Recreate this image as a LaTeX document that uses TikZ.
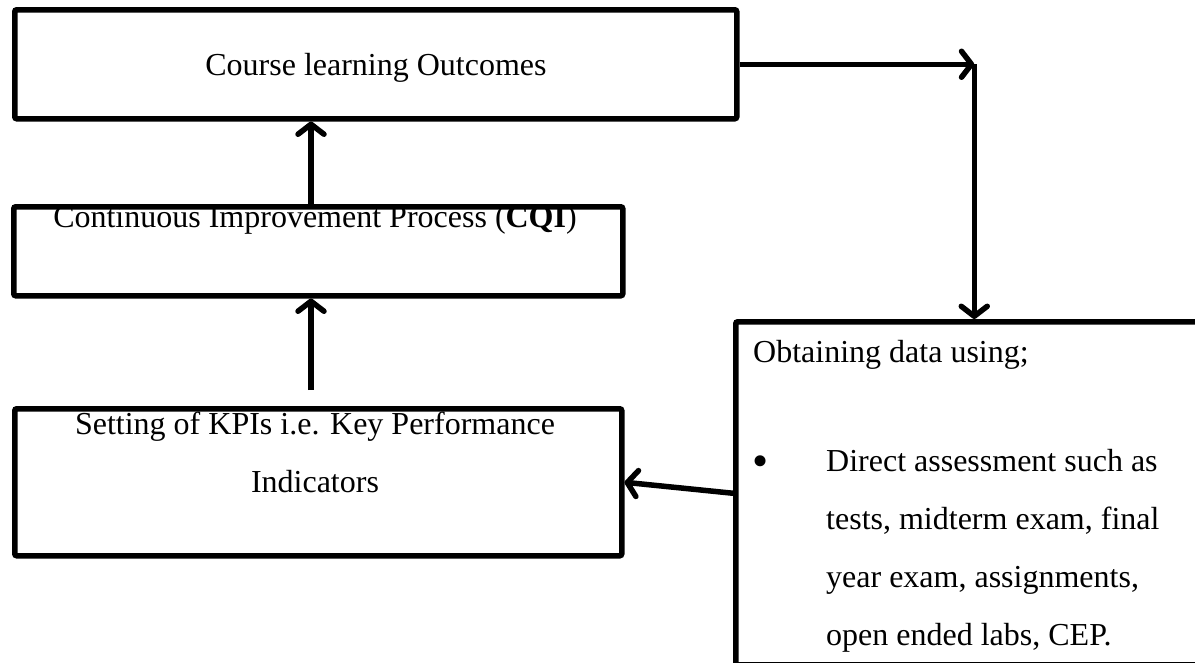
\documentclass[tikz,border=0pt]{standalone}
\usepackage{fontspec}
\setmainfont{Liberation Serif}
\usetikzlibrary{positioning,arrows.meta}

\begin{document}
\begin{tikzpicture}[x=1pt, y=-1pt,
    box/.style={draw, line width=5.5pt, rounded corners=2pt, anchor=north west, inner sep=0pt},
    txt/.style={inner sep=0pt, font=\fontsize{32}{58}\selectfont},
    arr/.style={line width=5.5pt, -{Straight Barb[length=10pt, width=26pt, line width=5.5pt, round]}}]
    \path[use as bounding box, clip] (0,0) rectangle (1195,662);
    \fill[white] (0,0) rectangle (1195,662);
    % boxes
    \node[box, minimum width=722pt, minimum height=109pt] (clo) at (12,7) {};
    \node[box, minimum width=609pt, minimum height=89pt] (cqi) at (11,204) {};
    \node[box, minimum width=607pt, minimum height=147pt] (kpi) at (12,406) {};
    \node[box, minimum width=477pt, minimum height=343pt] (data) at (733,319) {};
    % texts
    \node[txt] (clotext) at (376,68) {Course learning Outcomes};
    \node[txt] (cqitext) at (315,220) {Continuous Improvement Process (\textbf{CQI})};
    \node[txt, align=center] (kpitext) at (315,452) {Setting of KPIs i.e. Key Performance\\Indicators};
    \node[txt, anchor=west] (datatext) at (753,355) {Obtaining data using;};
    \node[txt, font=\fontsize{46}{46}\selectfont] (bullet) at (761,466) {\textbullet};
    \node[txt, anchor=west, align=left] (methods) at (826,551) {Direct assessment such as\\tests, midterm exam, final\\year exam, assignments,\\open ended labs, CEP.};
    % connectors
    \coordinate (turn) at (clo.east -| data.north);
    \coordinate (kpitop) at (311,390);
    \draw[arr] (clo.east) -- (turn);
    \draw[arr] (turn) -- (data.north);
    \draw[arr] (cqi.north -| kpitop) -- (clo.south -| kpitop);
    \draw[arr] (kpitop) -- (cqi.south -| kpitop);
    \draw[arr] (data.west) -- (kpi.east);
\end{tikzpicture}
\end{document}
